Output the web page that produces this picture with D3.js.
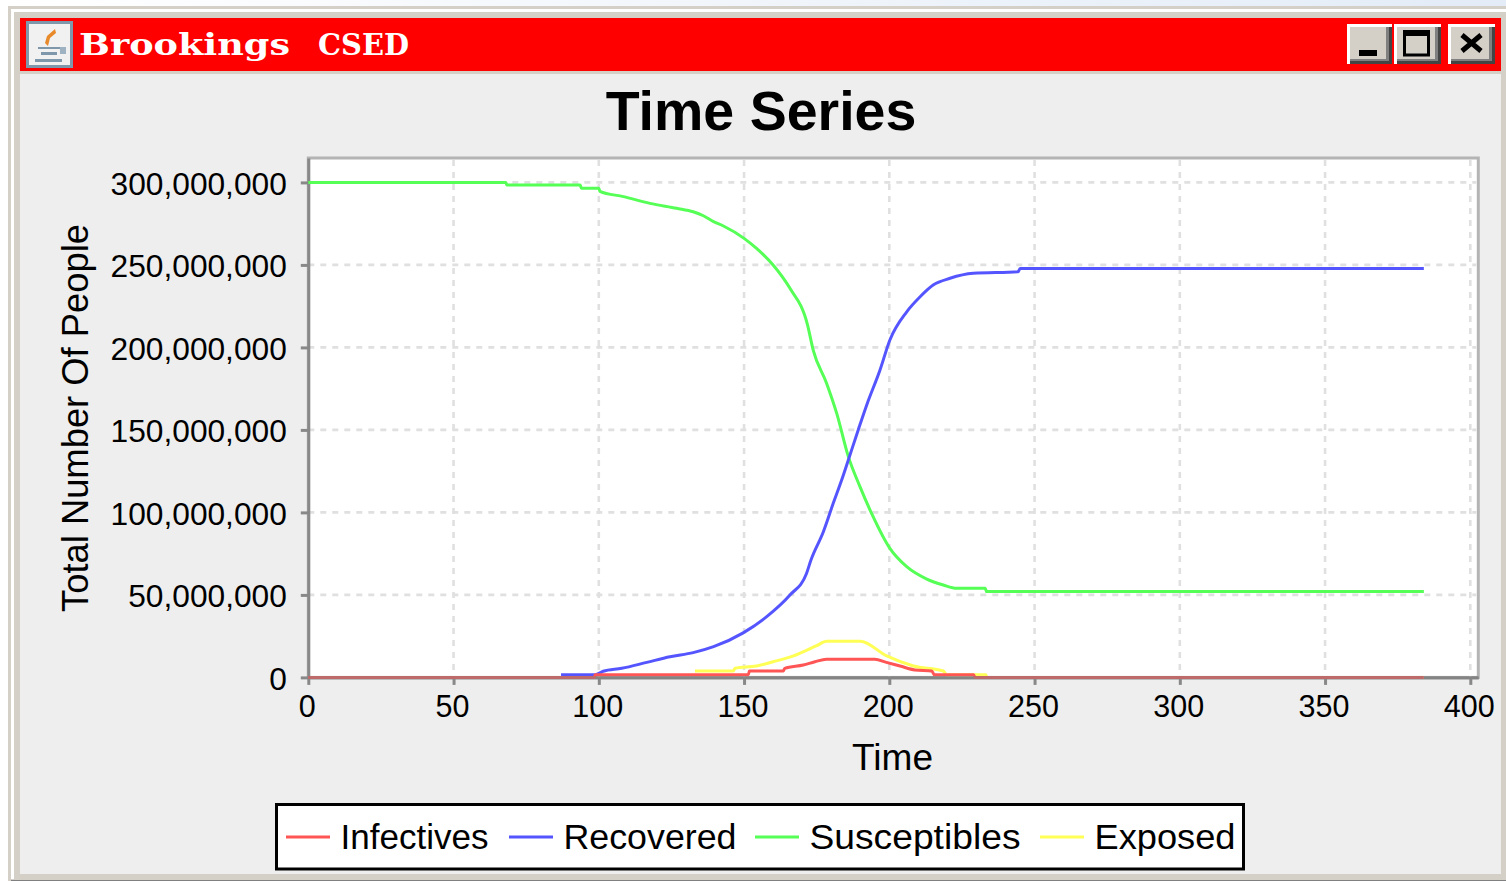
<!DOCTYPE html>
<html>
<head>
<meta charset="utf-8">
<script src="https://cdn.jsdelivr.net/npm/d3@7"></script>
<style>
  html, body { margin: 0; padding: 0; background: #fff; }
  svg { display: block; }
  text { font-family: "Liberation Sans", Arial, sans-serif; fill: #000; }
</style>
</head>
<body>
<div id="chart-area"></div>
<script>
/* DATA (people in millions) */
const xTicks = [0, 50, 100, 150, 200, 250, 300, 350, 400];
const yTicks = [0, 50e6, 100e6, 150e6, 200e6, 250e6, 300e6];

const susceptiblesT = [0, 59, 68, 68.3, 93.6, 94, 100, 100.4, 108.5, 117.6, 126.8, 132.5, 136, 139.5, 142.9, 150, 154.3, 160, 165.8, 171.8, 173.8, 178.4, 181.9, 185.9, 189.9, 193.9, 200.2, 206, 212.9, 218.6, 223.2, 233, 233.5, 384];
const susceptiblesV = [300, 300, 300, 298.5, 298.5, 296.4, 296.4, 294.6, 291.4, 287.3, 284.3, 282.2, 279.8, 276.2, 273.6, 266.1, 260, 250, 235.8, 214, 198.4, 178.3, 160, 133.8, 115.6, 99.4, 78.2, 67.1, 59.6, 56, 54, 54, 52, 52];

const recoveredT = [87, 98.7, 101.5, 107.9, 116.5, 124.5, 132.5, 139.5, 149.7, 157.8, 165.8, 171.5, 173, 177.3, 180.7, 183.6, 185.9, 189.3, 192.2, 196.8, 200.2, 206, 210.6, 215.1, 220.9, 228.9, 244.4, 245, 384];
const recoveredV = [1.6, 1.6, 3.7, 5.5, 9.1, 12.5, 15, 18.6, 27, 36.8, 49.9, 63, 71, 88.3, 105.5, 119.6, 131.8, 150, 165, 186.3, 204.5, 221.6, 230.7, 237.8, 241.9, 244.9, 245.9, 247.9, 247.9];

const exposedT = [133.1, 146.3, 146.9, 154.3, 160, 167, 175, 178.4, 190, 199.1, 208.3, 218.6, 219.7, 233.3, 233.5, 384];
const exposedV = [3.9, 3.9, 5.5, 6.9, 9.5, 13, 19.2, 21.9, 21.9, 13, 6.9, 3.9, 1.6, 1.6, 0, 0];

const infectivesT = [0, 98.5, 98.7, 151.5, 151.8, 163.5, 164, 170.4, 174.4, 178.4, 195, 199, 203.7, 208.8, 214.6, 215.5, 229, 229.5, 384];
const infectivesV = [0, 0, 1.6, 1.6, 3.9, 3.9, 5.5, 7.5, 9.5, 11, 11, 9.1, 6.9, 4.5, 3.9, 1.6, 1.6, 0, 0];

const legendLabels = ['Infectives', 'Recovered', 'Susceptibles', 'Exposed'];
const legendColors = ['#ff5555', '#5555ff', '#55ff55', '#ffff55'];

/* CONSTANTS */
const plot = { left: 308.3, right: 1478.3, top: 158, bottom: 677.4 };
const edge = '#d4d0c8';
const legendLineX = [286, 509, 755, 1040];
const legendTextWidth = [148, 173, 211, 141];

const svg = d3
  .select('#chart-area')
  .append('svg')
  .attr('width', 1506)
  .attr('height', 881)
  .attr('viewBox', '0 0 1506 881');

// window frame
const grad = svg
  .append('defs')
  .append('linearGradient')
  .attr('id', 'topStrip');
grad.append('stop').attr('offset', '0').attr('stop-color', '#ffffff');
grad.append('stop').attr('offset', '1').attr('stop-color', '#e3ecf7');
svg.append('rect').attr('width', 1506).attr('height', 7).attr('fill', 'url(#topStrip)');

function box(x, y, w, h, fill, parent) {
  return (parent || svg)
    .append('rect')
    .attr('x', x)
    .attr('y', y)
    .attr('width', w)
    .attr('height', h)
    .attr('fill', fill);
}

box(8, 6, 1498, 875, edge);
box(11, 9, 1495, 870, '#ffffff');
box(14, 12, 1492, 867, edge);
box(20, 74, 1481, 800, '#eeeeee');
box(20, 18, 1481, 53, '#ff0000');
box(11, 880, 1495, 1, '#808080');

// title bar icon
const icon = svg.append('g');
box(26, 21, 47, 47, '#7f97aa', icon);
box(29, 24, 41, 41, '#f1f1f1', icon);
icon
  .append('path')
  .attr('d', 'M55 29L47 36L45 43L48 46L50 38L56 33Z')
  .attr('fill', '#e8892b');
box(38, 47, 22, 2, '#7f97aa', icon);
box(41, 52, 16, 3, '#7f97aa', icon);
box(60, 47, 6, 7, '#9fb2c2', icon);
box(35, 59, 27, 3, '#7f97aa', icon);

svg
  .append('text')
  .attr('y', 55)
  .style('font-family', '"DejaVu Serif", serif')
  .style('font-weight', 'bold')
  .style('font-size', '30px')
  .style('fill', '#fff')
  .html(
    '<tspan x="79" textLength="211" lengthAdjust="spacingAndGlyphs">Brookings</tspan> ' +
      '<tspan x="318" textLength="91" lengthAdjust="spacingAndGlyphs">CSED</tspan>'
  );

// window buttons
[1347, 1394, 1448].forEach((bx, i) => {
  const w = i === 0 ? 45 : 47;
  box(bx, 24, w, 40, '#ffffff');
  box(bx + 3, 27, w - 3, 37, '#444444');
  box(bx + 3, 27, w - 6, 34, '#808080');
  box(bx + 3, 27, w - 9, 32, edge);
});
box(1359, 50, 18, 6, '#000');
svg
  .append('rect')
  .attr('x', 1404.5)
  .attr('y', 32)
  .attr('width', 24)
  .attr('height', 23)
  .attr('fill', 'none')
  .attr('stroke', '#000')
  .attr('stroke-width', 3);
box(1403, 30, 27, 6, '#000');
svg
  .append('path')
  .attr('d', 'M1462 35L1481 51M1481 35L1462 51')
  .attr('stroke', '#000')
  .attr('stroke-width', 5)
  .attr('fill', 'none');

// chart title
svg
  .append('text')
  .attr('x', 761)
  .attr('y', 130)
  .attr('text-anchor', 'middle')
  .style('font-weight', 'bold')
  .style('font-size', '55.5px')
  .text('Time Series');

/* SCALES */
const x = d3.scaleLinear().domain([0, 402.75]).range([plot.left, plot.right]);
const y = d3.scaleLinear().domain([0, 314.8e6]).range([plot.bottom, plot.top]);

// plot area
svg
  .append('rect')
  .attr('x', plot.left)
  .attr('y', plot.top)
  .attr('width', plot.right - plot.left)
  .attr('height', plot.bottom - plot.top)
  .attr('fill', '#fff')
  .attr('stroke', '#b4b4b4')
  .attr('stroke-width', 3);

// gridlines
const grid = svg.append('g');
grid
  .append('g')
  .selectAll('line')
  .data(xTicks.slice(1))
  .join('line')
  .attr('x1', (d) => x(d))
  .attr('x2', (d) => x(d))
  .attr('y1', plot.top + 2)
  .attr('y2', plot.bottom);
grid
  .append('g')
  .selectAll('line')
  .data(yTicks.slice(1))
  .join('line')
  .attr('x1', plot.left)
  .attr('x2', plot.right - 2)
  .attr('y1', (d) => y(d))
  .attr('y2', (d) => y(d));
grid
  .selectAll('line')
  .attr('stroke', '#e0e0e0')
  .attr('stroke-width', 2.6)
  .attr('stroke-dasharray', '6,6');

// axes
const xAxisCall = d3
  .axisBottom(x)
  .tickValues(xTicks)
  .tickSize(7.5)
  .tickSizeOuter(0)
  .tickPadding(8)
  .tickFormat((d) => d);
const yAxisCall = d3
  .axisLeft(y)
  .tickValues(yTicks)
  .tickSize(7.5)
  .tickSizeOuter(0)
  .tickPadding(14)
  .tickFormat(d3.format(','));

function styleAxis(a) {
  a.selectAll('.domain, .tick line').attr('stroke', '#888').attr('stroke-width', 3);
  a.selectAll('text').attr('fill', '#000');
}

svg
  .append('g')
  .attr('transform', `translate(0, ${plot.bottom})`)
  .call(xAxisCall)
  .call(styleAxis)
  .call((a) => a.selectAll('text').attr('dx', -1.5).attr('dy', '0.78em').style('font-size', '30.5px'));
svg
  .append('g')
  .attr('transform', `translate(${plot.left}, 0)`)
  .call(yAxisCall)
  .call(styleAxis)
  .call((a) => a.selectAll('text').attr('dy', '0.38em').style('font-size', '31.7px'));

/* SERIES, later legend entries are painted first */
const line = (ts) =>
  d3
    .line()
    .x((d, i) => x(ts[i]))
    .y((d) => y(d * 1e6))
    .curve(d3.curveMonotoneX);

const series = [
  [exposedT, exposedV, legendColors[3]],
  [susceptiblesT, susceptiblesV, legendColors[2]],
  [recoveredT, recoveredV, legendColors[1]],
  [infectivesT, infectivesV, legendColors[0]],
];
series.forEach(([ts, vs, color]) => {
  svg
    .append('path')
    .datum(vs)
    .attr('fill', 'none')
    .attr('stroke', color)
    .attr('stroke-width', 3)
    .attr('d', line(ts));
});

// axis line runs over the data at half strength
svg
  .append('line')
  .attr('x1', plot.left)
  .attr('x2', plot.right)
  .attr('y1', plot.bottom)
  .attr('y2', plot.bottom)
  .attr('stroke', '#808080')
  .attr('stroke-opacity', 0.5)
  .attr('stroke-width', 3);

// axis titles
svg
  .append('text')
  .attr('x', 852)
  .attr('y', 770)
  .attr('textLength', 81)
  .attr('lengthAdjust', 'spacingAndGlyphs')
  .style('font-size', '36px')
  .text('Time');
svg
  .append('text')
  .attr('transform', 'translate(88, 612) rotate(-90)')
  .attr('textLength', 388)
  .attr('lengthAdjust', 'spacingAndGlyphs')
  .style('font-size', '36px')
  .text('Total Number Of People');

/* LEGEND */
svg
  .append('rect')
  .attr('x', 276.5)
  .attr('y', 804.5)
  .attr('width', 967)
  .attr('height', 64.5)
  .attr('fill', '#fff')
  .attr('stroke', '#000')
  .attr('stroke-width', 3);

const legend = svg
  .append('g')
  .selectAll('g')
  .data(legendLabels)
  .join('g')
  .attr('transform', (d, i) => `translate(${legendLineX[i]}, 837)`);
legend
  .append('line')
  .attr('x2', 44)
  .attr('stroke', (d, i) => legendColors[i])
  .attr('stroke-width', 3);
legend
  .append('text')
  .attr('x', 54.5)
  .attr('y', 12)
  .attr('textLength', (d, i) => legendTextWidth[i])
  .attr('lengthAdjust', 'spacingAndGlyphs')
  .style('font-size', '35px')
  .text((d) => d);
</script>
</body>
</html>
